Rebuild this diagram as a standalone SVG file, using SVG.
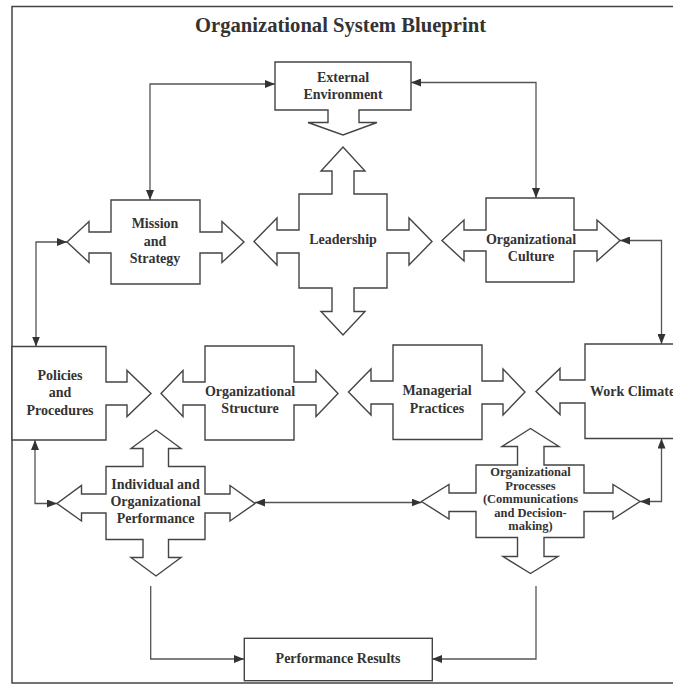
<svg xmlns="http://www.w3.org/2000/svg" width="673" height="684" viewBox="0 0 673 684">
<defs>
<style>
.shape{fill:#ffffff;stroke:#444;stroke-width:1.4;stroke-linejoin:miter}
.conn{fill:none;stroke:#555;stroke-width:1.3}
text{font-family:"Liberation Serif","Times New Roman",serif;font-weight:bold;fill:#333;font-size:14px;text-anchor:middle}
.title{font-size:22px}
.small{font-size:12.5px}
</style>
<marker id="ah" viewBox="0 0 10 8" refX="10" refY="4" markerWidth="10" markerHeight="8" markerUnits="userSpaceOnUse" orient="auto-start-reverse">
<path d="M0,0 L10,4 L0,8 Z" fill="#333"/>
</marker>
</defs>
<rect x="0" y="0" width="673" height="684" fill="#ffffff"/>
<rect x="12" y="6.5" width="700" height="676.5" fill="none" stroke="#444" stroke-width="1.5"/>
<text class="title" x="340.5" y="31.5" textLength="291" lengthAdjust="spacingAndGlyphs">Organizational System Blueprint</text>

<g id="connectors">
<path class="conn" d="M150,200 V84 H275" marker-start="url(#ah)" marker-end="url(#ah)"/>
<path class="conn" d="M536,198 V82.5 H411" marker-start="url(#ah)" marker-end="url(#ah)"/>
<path class="conn" d="M67,242 H36 V346.5" marker-start="url(#ah)" marker-end="url(#ah)"/>
<path class="conn" d="M620,240.5 H661.5 V344" marker-start="url(#ah)" marker-end="url(#ah)"/>
<path class="conn" d="M35,440 V503.5 H57" marker-start="url(#ah)" marker-end="url(#ah)"/>
<path class="conn" d="M255,502.5 H421.5" marker-start="url(#ah)" marker-end="url(#ah)"/>
<path class="conn" d="M661.5,438.5 V501.5 H640" marker-start="url(#ah)" marker-end="url(#ah)"/>
<path class="conn" d="M150.7,586 V659 H244" marker-end="url(#ah)"/>
<path class="conn" d="M536,586 V659 H432" marker-end="url(#ah)"/>
</g>

<g id="external">
<path class="shape" d="M275,62 H411 V110 H359 V122.5 H377 L343,135 L308,122.5 H328 V110 H275 Z"/>
<text x="343" y="81.5">External</text>
<text x="343" y="98.5">Environment</text>
</g>

<g id="mission">
<path class="shape" d="M111,200 H200 V232 H222 V221.5 L244,242 L222,262.5 V253 H200 V284 H111 V253 H89 V262.5 L67,242 L89,221.5 V232 H111 Z"/>
<text x="155" y="228">Mission</text>
<text x="155" y="245.5">and</text>
<text x="155" y="262.5">Strategy</text>
</g>

<g id="leadership">
<path class="shape" d="M299,194 H332 V171 H321 L343,147 L365,171 H354 V194 H387 V230 H409 V218 L432,241.5 L409,265 V253 H387 V288 H354 V311.5 H365 L343,335 L321,311.5 H332 V288 H299 V253 H277 V265 L254,241.5 L277,218 V230 H299 Z"/>
<text x="343" y="244">Leadership</text>
</g>

<g id="culture">
<path class="shape" d="M486,198 H574 V230 H597 V220 L620,240.5 L597,261 V251 H574 V282 H486 V251 H464 V261 L442,240.5 L464,220 V230 H486 Z"/>
<text x="531" y="244">Organizational</text>
<text x="531" y="261">Culture</text>
</g>

<g id="policies">
<path class="shape" d="M12,346.5 H106 V382 H127 V370.5 L151,393.5 L127,416.5 V405 H106 V440 H12 Z"/>
<text x="60" y="380">Policies</text>
<text x="60" y="397">and</text>
<text x="60" y="415">Procedures</text>
</g>

<g id="structure">
<path class="shape" d="M205,346 H294 V382 H316 V370.5 L338,393.5 L316,416.5 V405 H294 V440 H205 V405 H183 V416.5 L161,393.5 L183,370.5 V382 H205 Z"/>
<text x="250" y="395.5">Organizational</text>
<text x="250" y="413">Structure</text>
</g>

<g id="managerial">
<path class="shape" d="M393,345 H482 V381 H503 V369 L525,392 L503,415 V404 H482 V439.5 H393 V404 H371 V415 L348.5,392 L371,369 V381 H393 Z"/>
<text x="437" y="395">Managerial</text>
<text x="437" y="412.5">Practices</text>
</g>

<g id="workclimate">
<path class="shape" d="M690,344 H585 V380 H560 V368.5 L536,391.5 L560,414.5 V403 H585 V438.5 H690"/>
<text x="590" y="396" style="text-anchor:start">Work Climate</text>
</g>

<g id="individual">
<path class="shape" d="M106,466.5 H143 V448.5 H131 L156,430 L181,448.5 H168.5 V466.5 H205 V494 H230 V485.5 L255,503.5 L230,521 V513 H205 V539.5 H168.5 V557.5 H181 L156,576 L131,557.5 H143 V539.5 H106 V513 H81.5 V521 L57,503.5 L81.5,485.5 V494 H106 Z"/>
<text x="155.5" y="488.5">Individual and</text>
<text x="155.5" y="505.5">Organizational</text>
<text x="155.5" y="523">Performance</text>
</g>

<g id="processes">
<path class="shape" d="M476,465 H517.5 V446.5 H502 L530.5,428.5 L559,446.5 H544 V465 H584 V493 H613 V484.5 L640,501.5 L613,519 V511.5 H584 V537.5 H544 V556.5 H558 L530.5,573.5 L503,556.5 H517.5 V537.5 H476 V511.5 H449 V519 L421.5,501.5 L449,484.5 V493 H476 Z"/>
<text class="small" x="530.5" y="476">Organizational</text>
<text class="small" x="530.5" y="489.5">Processes</text>
<text class="small" x="530.5" y="503">(Communications</text>
<text class="small" x="530.5" y="516.5">and Decision-</text>
<text class="small" x="530.5" y="530">making)</text>
</g>

<g id="results">
<rect class="shape" x="244.3" y="638.3" width="188" height="42.4"/>
<text x="338" y="662.5">Performance Results</text>
</g>
</svg>
